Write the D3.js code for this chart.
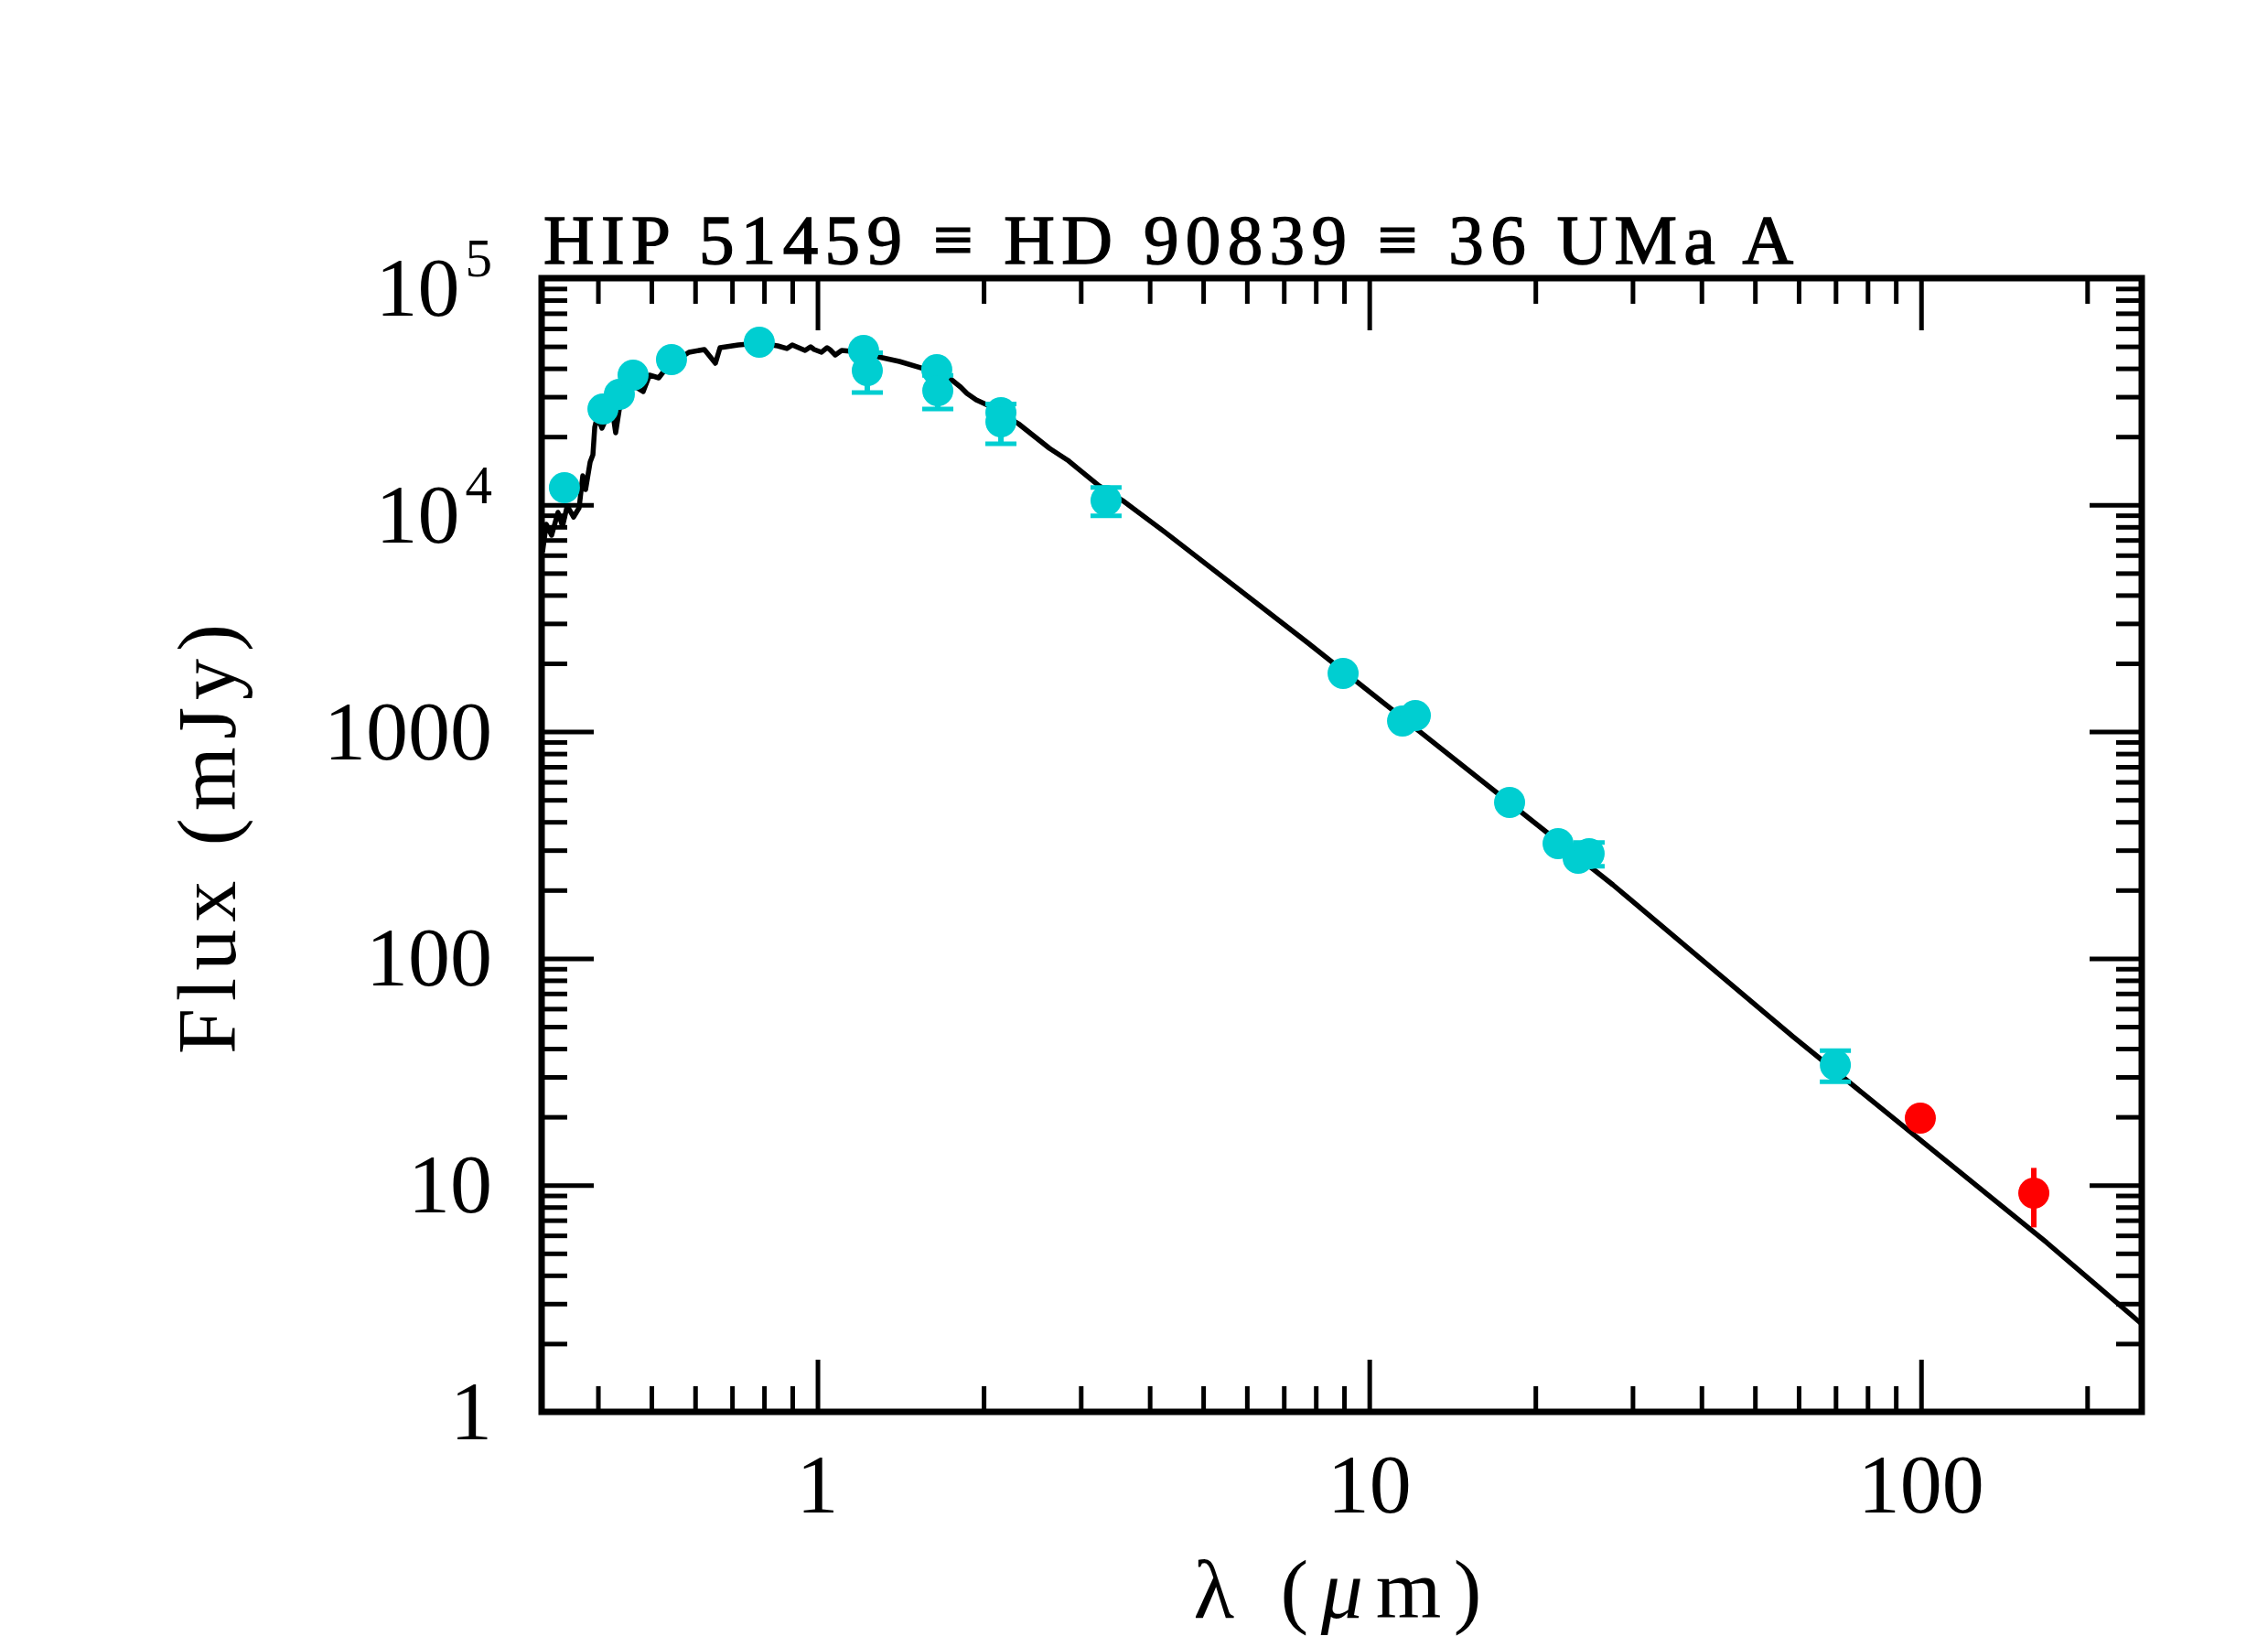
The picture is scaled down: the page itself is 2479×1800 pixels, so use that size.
<!DOCTYPE html>
<html lang="en">
<head>
<meta charset="UTF-8">
<title>HIP 51459 SED</title>
<script src="https://d3js.org/d3.v7.min.js"></script>
<style>
  body { margin: 0; background: white; }
  text { font-family: "Liberation Serif", "DejaVu Serif", serif; fill: black; }
  .axis path { display: none; }
  .axis line { stroke: black; stroke-width: 5; }
</style>
</head>
<body>
<svg width="2479" height="1800"></svg>
<script>
// model spectrum (wavelength in micron, flux in mJy)
const modelWave = [0.3175, 0.3224, 0.3297, 0.3386, 0.3451, 0.3519, 0.3614, 0.3698, 0.3755, 0.3799,
  0.3872, 0.3917, 0.3947, 0.3992, 0.4068, 0.4178, 0.4258, 0.4307, 0.4374, 0.4597,
  0.4831, 0.4961, 0.5155, 0.5356, 0.5848, 0.6238, 0.6531, 0.6658, 0.7186, 0.7843,
  0.8469, 0.8799, 0.9000, 0.9244, 0.9495, 0.9716, 0.9865, 1.017, 1.041, 1.053,
  1.077, 1.106, 1.208, 1.289, 1.407, 1.542, 1.639, 1.749, 1.817, 1.866,
  1.939, 2.038, 2.312, 2.633, 2.841, 3.222, 3.572, 4.258, 7.755, 27.64,
  58.66, 168.9, 251.2];
const modelFlux = [6216, 8210, 7345, 9267, 8060, 9890, 8845, 9707, 13440, 11690,
  15450, 16640, 21990, 24580, 21790, 25270, 25270, 20800, 26480, 34030,
  31600, 37350, 36320, 40990, 47120, 48450, 42150, 49360, 50750, 51700,
  50280, 48910, 50750, 49360, 48000, 49810, 48450, 47120, 49360, 48450,
  45810, 48000, 47120, 44970, 42930, 40220, 38390, 35650, 33100, 31010,
  29060, 27490, 22820, 17760, 15740, 12250, 10450, 7600, 2453, 211.1,
  45.13, 5.58, 2.44];

// photometry (cyan)
const photWave = [0.3478, 0.4085, 0.4374, 0.4632, 0.5437, 0.7843, 1.212, 1.231, 1.645, 1.652,
  2.150, 2.150, 3.334, 8.966, 11.49, 12.12, 17.96, 21.99, 23.91, 25.03, 69.94];
const photFlux = [11910, 26480, 30730, 37350, 43730, 52180, 48000, 39120, 39480, 31890,
  25520, 23250, 10450, 1806, 1114, 1178, 487.3, 320.7, 276.4, 289.5, 33.84];
const photErr = [0, 0, 0, 0, 0, 0, 0, 7800, 0, 5400,
  0, 4650, 1500, 0, 0, 0, 0, 0, 0, 35, 5.3];

// far-infrared photometry (red)
const farWave = [99.7, 160.1];
const farFlux = [19.74, 9.21];
const farErr = [0, 2.7];

// axis ticks and labels
const xMajor = [1, 10, 100];
const xTickLabels = ["1", "10", "100"];
const yMajor = [1, 10, 100, 1000, 1e4, 1e5];
const yTickLabels = ["1", "10", "100", "1000", "10", "10"];
const yTickSup = ["", "", "", "", "4", "5"];

const titleText = "HIP 51459 \u2261 HD 90839 \u2261 36 UMa A";

const svg = d3.select("svg"),
    margin = {top: 304, right: 138, bottom: 257, left: 592},
    width = +svg.attr("width") - margin.left - margin.right,
    height = +svg.attr("height") - margin.top - margin.bottom;

svg.append("rect").attr("width", 2479).attr("height", 1800).attr("fill", "white");

const x = d3.scaleLog().domain([Math.pow(10, -0.5), Math.pow(10, 2.4)]).range([0, width]);
const y = d3.scaleLog().domain([1, 1e5]).range([height, 0]);

const g = svg.append("g").attr("transform", `translate(${margin.left},${margin.top})`);

const xMinor = x.ticks().filter(v => !xMajor.includes(v));
const yMinor = y.ticks().filter(v => !yMajor.some(m => Math.abs(m - v) / m < 1e-6));

// inward ticks on all four sides
function ticks(axisFn, scale, values, size, transform) {
  g.append("g")
    .attr("class", "axis")
    .attr("transform", transform)
    .call(axisFn(scale).tickValues(values).tickSize(size).tickFormat(""));
}
ticks(d3.axisTop, x, xMajor, 57, `translate(0,${height})`);
ticks(d3.axisTop, x, xMinor, 28, `translate(0,${height})`);
ticks(d3.axisBottom, x, xMajor, 57, "translate(0,0)");
ticks(d3.axisBottom, x, xMinor, 28, "translate(0,0)");
ticks(d3.axisRight, y, yMajor, 57, "translate(0,0)");
ticks(d3.axisRight, y, yMinor, 28, "translate(0,0)");
ticks(d3.axisLeft, y, yMajor, 57, `translate(${width},0)`);
ticks(d3.axisLeft, y, yMinor, 28, `translate(${width},0)`);

// frame
g.append("rect")
  .attr("width", width).attr("height", height)
  .attr("fill", "none").attr("stroke", "black").attr("stroke-width", 7);

// tick labels
g.selectAll(".xlab")
  .data(xMajor)
  .enter().append("text")
  .attr("class", "xlab")
  .attr("x", d => x(d))
  .attr("y", height + 110)
  .attr("text-anchor", "middle")
  .attr("font-size", 92)
  .text((d, i) => xTickLabels[i]);

const ylab = g.selectAll(".ylab")
  .data(yMajor)
  .enter().append("text")
  .attr("class", "ylab")
  .attr("x", -54)
  .attr("y", (d, i) => y(d) + (yTickSup[i] ? 41 : 30))
  .attr("text-anchor", "end")
  .attr("font-size", 92);
ylab.append("tspan").text((d, i) => yTickLabels[i]);
ylab.filter((d, i) => yTickSup[i] !== "")
  .append("tspan")
  .attr("dx", 6)
  .attr("dy", -43)
  .attr("font-size", 59)
  .text(d => yTickSup[yMajor.indexOf(d)]);

// model spectrum
const model = modelWave.map((w, i) => ({w: w, f: modelFlux[i]}));
g.append("path")
  .datum(model)
  .attr("fill", "none")
  .attr("stroke", "black")
  .attr("stroke-width", 5.5)
  .attr("stroke-linejoin", "round")
  .attr("d", d3.line().x(d => x(d.w)).y(d => y(d.f)));

// photometry
const phot = photWave.map((w, i) => ({w: w, f: photFlux[i], e: photErr[i]}));
const far = farWave.map((w, i) => ({w: w, f: farFlux[i], e: farErr[i]}));
const cyan = "#00CED1", red = "#FF0000";

function errorBars(data, color, caps) {
  const eb = g.append("g").selectAll("g")
    .data(data.filter(d => d.e > 0))
    .enter().append("g");
  eb.append("line")
    .attr("x1", d => x(d.w)).attr("x2", d => x(d.w))
    .attr("y1", d => y(d.f + d.e)).attr("y2", d => y(d.f - d.e))
    .attr("stroke", color).attr("stroke-width", 6);
  if (caps) {
    [1, -1].forEach(s => {
      eb.append("line")
        .attr("x1", d => x(d.w) - 17).attr("x2", d => x(d.w) + 17)
        .attr("y1", d => y(d.f + s * d.e)).attr("y2", d => y(d.f + s * d.e))
        .attr("stroke", color).attr("stroke-width", 5);
    });
  }
}
errorBars(phot, cyan, true);
errorBars(far, red, false);

g.append("g").selectAll("circle")
  .data(phot)
  .enter().append("circle")
  .attr("cx", d => x(d.w)).attr("cy", d => y(d.f))
  .attr("r", 17).attr("fill", cyan);

g.append("g").selectAll("circle")
  .data(far)
  .enter().append("circle")
  .attr("cx", d => x(d.w)).attr("cy", d => y(d.f))
  .attr("r", 17).attr("fill", red);

// title
svg.append("text")
  .attr("x", 594)
  .attr("y", 288)
  .attr("font-size", 77)
  .attr("stroke", "black")
  .attr("stroke-width", 1.5)
  .attr("textLength", 1366)
  .attr("lengthAdjust", "spacing")
  .text(titleText);

// axis titles
const xt = svg.append("text")
  .attr("x", 1462)
  .attr("y", 1768)
  .attr("text-anchor", "middle")
  .attr("font-size", 92)
  .attr("textLength", 315)
  .attr("lengthAdjust", "spacing");
xt.append("tspan").text("\u03bb  (");
xt.append("tspan").attr("font-style", "italic").text("\u03bc");
xt.append("tspan").text("m)");

svg.append("text")
  .attr("transform", "translate(257,917) rotate(-90)")
  .attr("text-anchor", "middle")
  .attr("font-size", 90)
  .attr("textLength", 470)
  .attr("lengthAdjust", "spacing")
  .text("Flux (mJy)");
</script>
</body>
</html>
